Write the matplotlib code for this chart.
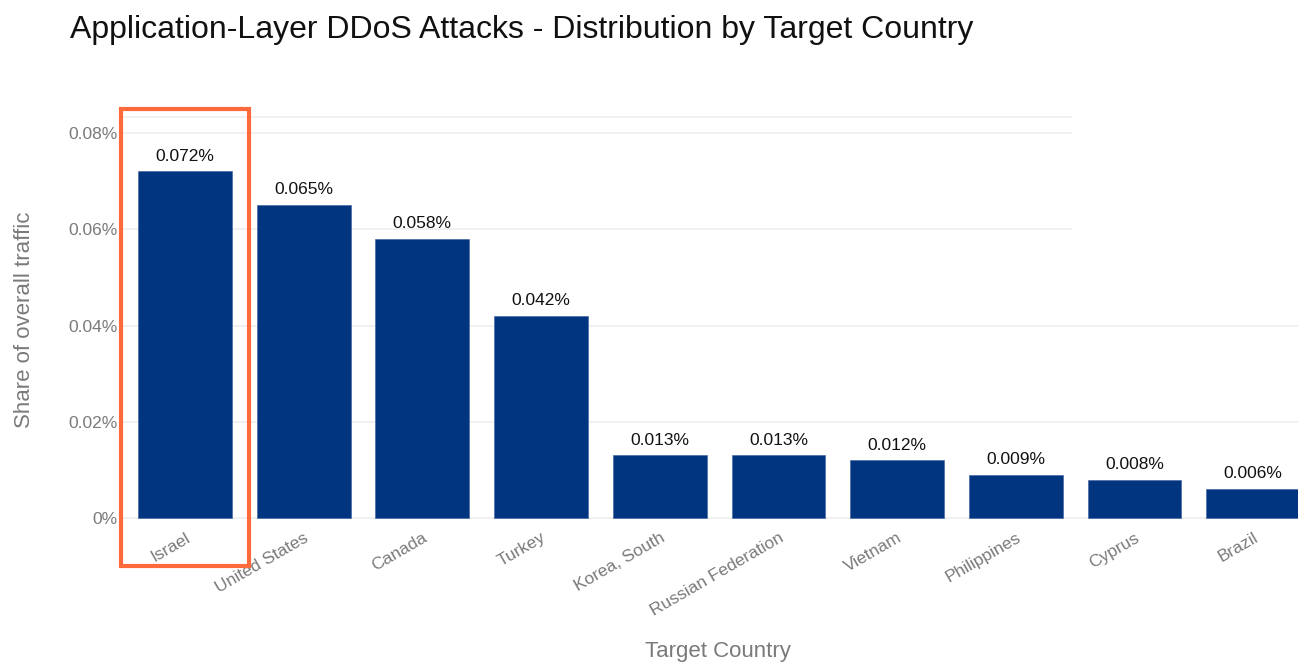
import numpy as np
import matplotlib.pyplot as plt
from matplotlib.patches import Rectangle

plt.rcParams['font.family'] = ['Liberation Sans', 'DejaVu Sans']

countries = ["Israel", "United States", "Canada", "Turkey", "Korea, South",
             "Russian Federation", "Vietnam", "Philippines", "Cyprus", "Brazil"]
share = [0.072, 0.065, 0.058, 0.042, 0.013, 0.013, 0.012, 0.009, 0.008, 0.006]
y_ticks = [0, 0.02, 0.04, 0.06, 0.08]

bar_color = "#02357F"
grid_color = "#EFEFEF"
text_gray = "#7A7A7A"

fig = plt.figure(figsize=(12.98, 6.65), dpi=100)
ax = fig.add_axes([0.0924, 0.203, 0.9076, 0.6316])

x = np.arange(len(countries))
ax.set_xlim(-0.548, 9.377)
ax.set_ylim(-0.00249, 0.08478)

# grid (upper lines stop short of the right edge)
for t in y_ticks:
    xmax = 7.47 if t >= 0.06 else 9.377
    ax.hlines(t, -0.548, xmax, color=grid_color, lw=1.3, zorder=0)
ax.hlines(0.0833, -0.548, 7.47, color=grid_color, lw=1.3, zorder=0)

ax.bar(x, share, width=0.79, color=bar_color, edgecolor="#4a6aa8", linewidth=0.5, zorder=2)
for xi, v in zip(x, share):
    ax.text(xi, v + 0.0016, f"{v:.3f}%", ha="center", va="bottom",
            fontsize=12.5, color="#111111")

for s in ax.spines.values():
    s.set_visible(False)

ax.set_yticks(y_ticks)
ax.set_yticklabels(["0%" if t == 0 else f"{t:.2f}%" for t in y_ticks])
ax.set_xticks(x)
ax.set_xticklabels(countries, rotation=30, ha="right", rotation_mode="anchor")
ax.tick_params(axis="both", length=0, labelsize=12.5, labelcolor=text_gray)
ax.tick_params(axis="y", pad=2)
ax.tick_params(axis="x", pad=0)

ax.set_ylabel("Share of overall traffic", fontsize=16, color=text_gray, labelpad=24)
ax.set_xlabel("Target Country", fontsize=16, color=text_gray, labelpad=16)
ax.xaxis.label.set_x(0.508)

fig.text(0.054, 0.955, "Application-Layer DDoS Attacks - Distribution by Target Country",
         fontsize=23, color="#111111", ha="left", va="center")

# highlight box around the first bar
ax.add_patch(Rectangle((-0.539, -0.00997), 1.078, 0.09497, fill=False,
                       edgecolor="#FF6A3D", linewidth=3, clip_on=False, zorder=5))

fig.savefig("out.png", dpi=100)
